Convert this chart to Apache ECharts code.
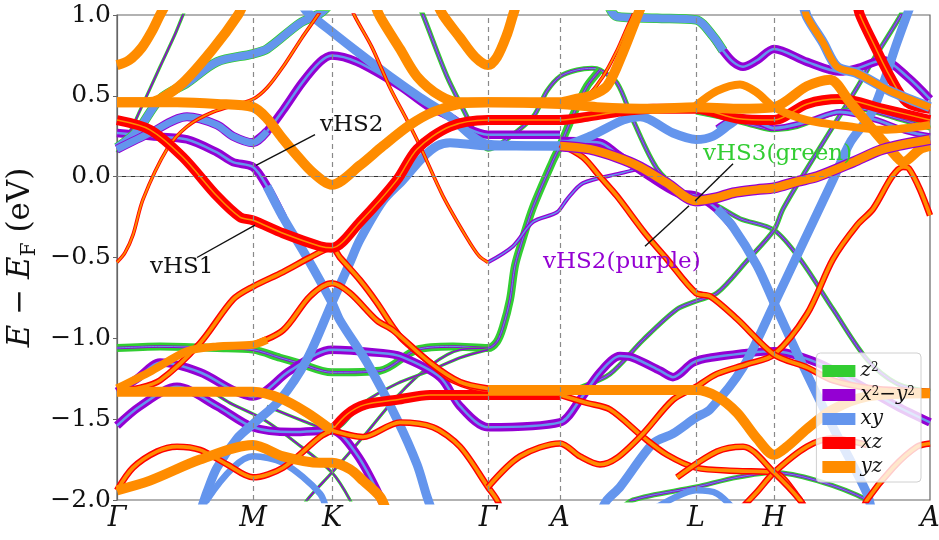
<!DOCTYPE html>
<html><head><meta charset="utf-8">
<script src="https://cdn.jsdelivr.net/npm/echarts@6/dist/echarts.min.js"></script>
<style>html,body{margin:0;padding:0;background:#fff}#c{width:939px;height:540px}</style>
</head><body><div id="c"></div>
<script>
// high-symmetry k points (path distance) and labels
const kPoints = [0,136,215,371,443,579,657,813];
const kLabels = ['Γ','M','K','Γ','A','L','H','A'];
const legendNames = ['z2','x2y2','xy','xz','yz'];

// ---- band data: [k, E-EF (eV)] ----
const gSteep = [[0,0.15],[13,0.28],[23,0.41],[43,0.68],[58,0.88],[66,1.0],[72,1.08]];
const gThin = [[300,1.08],[306,1.0],[330,0.62],[350,0.37],[361,0.23],[371,0.17],[385,0.21],[416,0.37],[430,0.53],[443,0.62],[460,0.66],[475,0.67],[483,0.66],[500,0.58],[516,0.35],[540,0.05],[566,-0.10],[579,-0.13],[600,-0.18],[623,-0.26],[657,-0.33],[683,-0.51],[716,-0.82],[750,-1.13],[780,-1.28],[813,-1.33]];
const gFlat = [[0,-1.06],[43,-1.05],[100,-1.06],[136,-1.07],[163,-1.12],[180,-1.15],[215,-1.21],[263,-1.20],[300,-1.07],[336,-1.05],[371,-1.06],[380,-1.02],[386,-0.93],[393,-0.76],[398,-0.55],[405,-0.40],[416,-0.19],[436,0.10],[443,0.19],[456,0.38],[470,0.56],[483,0.66]];
const g2 = [[443,-1.34],[465,-1.30],[493,-1.22],[526,-1.01],[560,-0.82],[579,-0.77],[600,-0.72],[630,-0.52],[657,-0.33],[666,-0.20],[690,0.05],[716,0.31],[740,0.55],[756,0.72],[783,0.99],[790,1.08]];
const gpD1 = [[100,-1.35],[113,-1.40],[146,-1.50],[180,-1.65],[215,-1.83],[233,-2.0],[237,-2.08]];
const gpD2 = [[183,-2.08],[190,-2.0],[215,-1.83],[246,-1.61],[280,-1.36],[313,-1.17],[343,-1.07],[371,-1.06]];
const gpD3 = [[150,-1.42],[190,-1.52],[215,-1.57],[246,-1.40],[280,-1.28],[313,-1.20],[343,-1.12],[371,-1.07]];
const gpLH = [[500,-2.08],[516,-2.0],[579,-1.92],[620,-1.86],[657,-1.83],[700,-1.88],[750,-2.0],[760,-2.08]];
const gpH = [[579,0.40],[610,0.36],[640,0.31],[657,0.29],[680,0.31],[710,0.38],[740,0.42],[780,0.36],[813,0.30]];

const bM1 = [[0,0.27],[35,0.25],[70,0.23],[100,0.15],[116,0.09],[136,0.06],[150,-0.06],[166,-0.25]];
const bM2 = [[150,-0.06],[166,-0.25],[190,-0.50],[215,-0.78],[223,-0.89],[250,-1.15],[280,-1.50],[300,-1.78],[310,-1.98],[316,-2.08]];
const bpMK1 = [[0,0.17],[33,0.27],[70,0.37],[100,0.32],[116,0.25],[136,0.21],[150,0.28]];
const bpMK2 = [[136,0.21],[150,0.28],[166,0.41],[185,0.58],[203,0.71],[215,0.75],[240,0.71],[283,0.56],[310,0.44],[333,0.37],[350,0.30],[371,0.26],[443,0.26]];
const pVhs = [[371,-0.53],[396,-0.43],[416,-0.28],[440,-0.22],[450,-0.14],[466,-0.04],[503,0.02],[523,0.05]];
const pLow1 = [[0,-1.54],[23,-1.42],[60,-1.30],[100,-1.42],[136,-1.55],[175,-1.58],[215,-1.57],[240,-1.72],[263,-1.98],[268,-2.08]];
const pMid = [[0,-1.33],[20,-1.25],[43,-1.15],[83,-1.21],[116,-1.32],[136,-1.36],[173,-1.20],[215,-1.07],[263,-1.09],[283,-1.11],[323,-1.24],[343,-1.42],[371,-1.55],[443,-1.52],[463,-1.38],[483,-1.21],[503,-1.11],[516,-1.12],[543,-1.20],[556,-1.24],[576,-1.15],[593,-1.12],[657,-1.08],[700,-1.15],[740,-1.28],[780,-1.42],[813,-1.52]];
const pbVhs1 = [[443,0.22],[483,0.21],[500,0.14],[533,0.0],[560,-0.10],[580,-0.12],[600,-0.20],[616,-0.31]];
const pbVhs2 = [[600,-0.20],[616,-0.31],[640,-0.55],[657,-0.78],[683,-1.13],[716,-1.55],[750,-1.96],[755,-2.08]];
const pTop1 = [[490,1.08],[500,0.99],[540,0.98],[579,0.97],[596,0.87],[606,0.78]];
const pTop2 = [[596,0.87],[606,0.78],[616,0.71],[626,0.68],[640,0.72],[657,0.79],[690,0.71],[723,0.65],[740,0.67],[766,0.72],[790,0.62],[813,0.48]];
const pbH = [[600,0.30],[623,0.37],[640,0.34],[657,0.30],[690,0.34],[723,0.40],[760,0.35],[790,0.28],[813,0.25]];

const bgUp = [[0,0.18],[20,0.28],[43,0.48],[70,0.58],[100,0.71],[136,0.76],[150,0.79],[183,0.95],[203,1.01],[212,1.06]];
const bK = [[83,-2.08],[90,-1.95],[100,-1.80],[120,-1.62],[136,-1.53],[163,-1.38],[190,-1.13],[215,-0.78],[233,-0.53],[243,-0.39],[266,-0.15],[286,-0.02],[306,0.12],[320,0.19],[333,0.21],[371,0.19],[443,0.19],[473,0.25],[506,0.35],[523,0.37],[556,0.27],[579,0.23],[596,0.25],[612,0.32],[623,0.37]];
const bDown = [[185,1.06],[190,1.02],[216,0.89],[245,0.75],[273,0.62],[303,0.49],[333,0.37],[355,0.25],[371,0.20],[443,0.19]];
const bL = [[483,-2.08],[490,-2.0],[503,-1.92],[536,-1.65],[556,-1.59],[579,-1.49],[593,-1.44],[626,-1.18],[657,-0.79],[683,-0.45],[716,-0.02],[733,0.21],[756,0.41],[780,0.83],[790,1.0],[795,1.08]];
const bMpk = [[86,-2.08],[90,-2.0],[116,-1.80],[136,-1.73],[166,-1.77],[203,-1.96],[210,-2.08]];
const bL2 = [[530,-2.08],[556,-1.99],[579,-1.94],[600,-1.96],[620,-2.08]];

const rVhs1 = [[0,0.35],[33,0.29],[66,0.12],[100,-0.12],[123,-0.25],[136,-0.27],[166,-0.35],[203,-0.43],[215,-0.44],[243,-0.28],[280,-0.02],[300,0.17],[333,0.31],[371,0.35],[443,0.35],[470,0.37],[500,0.40],[536,0.42],[579,0.42],[620,0.36],[657,0.35],[690,0.45],[723,0.48],[766,0.42],[813,0.35]];
const rLowA = [[0,-1.94],[16,-1.80],[40,-1.70],[60,-1.67],[83,-1.69],[110,-1.78],[136,-1.86],[166,-1.80],[203,-1.61],[215,-1.57]];
const rFlat = [[215,-1.57],[230,-1.47],[248,-1.41],[280,-1.38],[313,-1.35],[371,-1.35],[443,-1.35]];
const roT1a = [[0,-0.53],[8,-0.47],[16,-0.36],[26,-0.14],[50,0.17],[70,0.31],[96,0.40],[136,0.48],[150,0.55],[166,0.68],[185,0.86],[203,1.02],[210,1.1]];
const roT1b = [[230,1.1],[238,0.99],[255,0.80],[273,0.55],[290,0.35],[303,0.19],[326,-0.12],[350,-0.38],[362,-0.49],[371,-0.53]];
const roUp = [[443,0.46],[470,0.50],[486,0.62],[500,0.78],[510,0.92],[516,1.0],[520,1.08]];
const roK = [[0,-1.33],[20,-1.31],[43,-1.26],[83,-1.03],[116,-0.76],[136,-0.68],[166,-0.59],[193,-0.50],[215,-0.44],[223,-0.50],[243,-0.64],[260,-0.78],[276,-0.93],[286,-1.01],[313,-1.15],[336,-1.26],[371,-1.32],[443,-1.33]];
const roK2b = [[136,-1.04],[166,-0.95],[193,-0.74],[215,-0.66],[233,-0.72],[260,-0.89],[276,-0.95],[313,-1.15],[343,-1.27],[371,-1.31]];
const roKG = [[215,-1.57],[246,-1.61],[283,-1.52],[316,-1.55],[343,-1.67],[371,-1.92],[380,-2.0],[385,-2.08]];
const roA = [[443,-1.35],[470,-1.40],[493,-1.44],[526,-1.61],[550,-1.72],[579,-1.80],[620,-1.82],[657,-1.83],[683,-2.0],[690,-2.08]];
const roB = [[371,-1.92],[403,-1.73],[443,-1.65],[463,-1.73],[483,-1.78],[500,-1.74],[526,-1.59],[556,-1.38],[579,-1.30],[600,-1.22],[630,-1.16],[657,-1.10],[690,-0.85],[716,-0.51],[740,-0.30],[756,-0.20],[775,0.0],[786,0.06],[792,0.05],[803,-0.08],[813,-0.24]];
const roAa = [[443,0.20],[466,0.12],[483,0.0],[500,-0.12],[528,-0.35],[550,-0.51],[579,-0.72],[593,-0.74],[620,-0.88],[657,-1.10],[690,-1.18],[716,-1.26],[756,-1.31],[813,-1.33]];
const roBR = [[745,-2.08],[750,-2.0],[776,-1.80],[800,-1.67],[813,-1.65]];
const hX1 = [[620,-2.08],[640,-1.95],[657,-1.83],[690,-1.67],[716,-1.62],[750,-1.66]];
const hX2 = [[560,-1.86],[600,-1.70],[626,-1.67],[657,-1.83],[683,-2.0],[690,-2.08]];
const rTopR = [[740,1.08],[743,1.0],[756,0.83],[773,0.62],[790,0.46],[813,0.42]];

const oTop = [[0,0.69],[12,0.72],[25,0.80],[35,0.90],[43,1.0],[50,1.08]];
const oU = [[318,1.1],[326,1.0],[343,0.86],[358,0.74],[371,0.69],[380,0.74],[390,0.88],[396,1.0],[400,1.08]];
const oVhs2 = [[0,0.46],[60,0.46],[100,0.45],[136,0.43],[150,0.36],[165,0.24],[180,0.13],[195,0.03],[215,-0.05],[243,0.07],[266,0.19],[293,0.32],[316,0.40],[343,0.45],[371,0.46],[443,0.46],[458,0.48],[473,0.50],[490,0.56],[506,0.77],[520,0.99],[526,1.08]];
const oRise = [[0,0.46],[30,0.46],[43,0.48],[66,0.58],[96,0.79],[121,1.0],[127,1.08]];
const oFall = [[257,1.08],[263,0.99],[283,0.79],[300,0.62],[323,0.50],[343,0.46],[371,0.46],[443,0.45],[480,0.43],[536,0.42],[579,0.43],[620,0.42],[657,0.43],[690,0.56],[713,0.60],[733,0.46],[756,0.29],[780,0.12],[786,0.09],[803,0.17],[813,0.19]];
const oBump = [[579,0.44],[600,0.53],[623,0.57],[640,0.52],[657,0.43],[690,0.35],[733,0.31],[766,0.29],[813,0.32]];
const oK2a = [[0,-1.31],[35,-1.20],[70,-1.08],[100,-1.05],[136,-1.04],[150,-1.01]];
const oFlat = [[0,-1.33],[70,-1.33],[136,-1.33],[163,-1.37],[190,-1.46],[215,-1.57]];
const oFlat2 = [[371,-1.32],[443,-1.32],[500,-1.32],[579,-1.32],[600,-1.36],[620,-1.46],[640,-1.62],[657,-1.72],[670,-1.67],[690,-1.56],[716,-1.44],[750,-1.36],[813,-1.34]];
const oLow = [[0,-1.94],[33,-1.88],[83,-1.75],[136,-1.66],[166,-1.73],[203,-1.77],[215,-1.77],[233,-1.81],[246,-1.88],[263,-1.98],[270,-2.08]];
const opVhs = [[443,0.19],[473,0.17],[500,0.12],[523,0.06],[550,-0.04],[579,-0.15],[600,-0.13],[616,-0.10],[640,-0.08],[657,-0.07],[680,-0.03],[700,0.0],[736,0.09],[766,0.17],[813,0.23]];
const obTopR = [[686,1.08],[690,0.99],[706,0.83],[720,0.68],[740,0.64],[773,0.53],[813,0.43]];

// ---- styling ----
const G='#32CD32', P='#9400D3', B='#6495ED', R='#FF0000', O='#FF8C00';
const STY = {
  O:[[O,10]], Om:[[O,8]], OB:[[B,10],[O,7]], OP:[[P,11],[O,8.5]],
  R:[[R,10],[O,1.5]], RO:[[R,6.5],[O,3.6]], ro:[[R,3.6],[O,1.8]],
  B:[[B,9]], Bt:[[B,6.5]], Bg:[[G,9.5],[B,8]], Bp:[[P,9],[B,7]],
  PB:[[P,8.5],[B,2.5]], pbm:[[P,6],[B,3]], pb:[[P,4],[B,1.5]],
  G:[[G,8],[P,2.5],[B,1]], GP:[[G,5],[P,2.5],[B,1]], gp:[[G,3.2],[P,1.5]]
};
const bands = [
  [gSteep,'gp'],[gThin,'GP'],[gFlat,'G'],[g2,'GP'],[gpD1,'gp'],[gpD2,'gp'],[gpD3,'gp'],[gpLH,'GP'],[gpH,'GP'],
  [bM1,'PB'],[bpMK2,'PB'],[pVhs,'pb'],[pLow1,'PB'],[pMid,'PB'],[pbVhs1,'PB'],[pTop2,'PB'],[pbH,'pbm'],
  [bgUp,'Bg'],[bM2,'B'],[bK,'B'],[bpMK1,'Bp'],[bDown,'B'],[bL,'B'],[pbVhs2,'B'],[bMpk,'Bt'],[bL2,'Bt'],[pTop1,'Bg'],
  [roT1a,'ro'],[roT1b,'ro'],[roUp,'ro'],[rLowA,'RO'],[rFlat,'R'],[roK,'RO'],[roK2b,'RO'],[roKG,'RO'],[roA,'RO'],[roB,'RO'],[roAa,'RO'],[roBR,'RO'],[hX1,'RO'],[hX2,'RO'],[rVhs1,'R'],[rTopR,'R'],
  [oTop,'O'],[oU,'O'],[oVhs2,'O'],[oRise,'O'],[oFall,'O'],[oBump,'Om'],[oK2a,'Om'],[oFlat,'O'],[oFlat2,'O'],[oLow,'O'],[opVhs,'OP'],[obTopR,'OB']
];

const series = [];
// dashed reference lines
series.push({type:'line', data:[], silent:true, z:1,
  markLine:{symbol:'none', silent:true, animation:false, label:{show:false},
    lineStyle:{type:[5,4], color:'#8a8a8a', width:1.2},
    data: kPoints.slice(1,-1).map(k=>({xAxis:k})).concat([{yAxis:0}])}});
bands.forEach(([d,s])=>{
  STY[s].forEach(([c,w])=>{
    series.push({type:'line', data:d, smooth:0.3, showSymbol:false, symbol:'none', silent:true,
      animation:false, z:2, lineStyle:{color:c, width:w, join:'round'}});
  });
});
const legendColors = {z2:G, x2y2:P, xy:B, xz:R, yz:O};
legendNames.forEach(n=>series.push({name:n, type:'line', data:[], color:legendColors[n], itemStyle:{color:legendColors[n]}}));

const serif = 'DejaVu Serif';
const legendText = {
  z2:'{i|z}{s|2}', x2y2:'{i|x}{s|2}{n|−}{i|y}{s|2}', xy:'{i|xy}', xz:'{i|xz}', yz:'{i|yz}'
};
const chart = echarts.init(document.getElementById('c'), null, {renderer:'canvas'});
chart.setOption({
  animation:false,
  backgroundColor:'#fff',
  grid:{left:117, right:9, top:15, bottom:40, outerBoundsMode:'none', containLabel:false,
    show:true, borderColor:'#666', borderWidth:1.2, backgroundColor:'transparent'},
  xAxis:{type:'value', min:0, max:813,
    axisLine:{show:true, lineStyle:{color:'#333', width:1.2}},
    axisTick:{show:false}, splitLine:{show:false},
    axisLabel:{customValues:kPoints, showMinLabel:true, showMaxLabel:true, margin:5,
      formatter:(v)=>kLabels[kPoints.indexOf(v)],
      fontFamily:serif, fontStyle:'italic', fontSize:27, color:'#111'}},
  yAxis:{type:'value', min:-2, max:1, interval:0.5,
    axisLine:{show:true, lineStyle:{color:'#666', width:1.2}},
    axisTick:{show:true, length:4, lineStyle:{color:'#666'}}, splitLine:{show:false},
    axisLabel:{fontFamily:serif, fontSize:25, color:'#111', margin:6,
      formatter:(v)=>(v<0?'−':'')+Math.abs(v).toFixed(1)},
    name:'{i|E}{n| − }{i|E}{sub|F}{n| (eV)}', nameLocation:'middle', nameRotate:90, nameGap:76,
    nameTextStyle:{fontFamily:serif, fontSize:31, color:'#111',
      rich:{i:{fontFamily:serif, fontStyle:'italic', fontSize:31, lineHeight:36, color:'#111'},
            n:{fontFamily:serif, fontSize:31, lineHeight:36, color:'#111'},
            sub:{fontFamily:serif, fontSize:20, lineHeight:14, verticalAlign:'bottom', color:'#111'}}}},
  legend:{orient:'vertical', right:18, bottom:58, itemWidth:33, itemHeight:12, itemGap:4,
    padding:[8,6,5,6], backgroundColor:'rgba(255,255,255,0.8)', borderColor:'#d0d0d0', borderWidth:1, borderRadius:4,
    data:legendNames.map(n=>({name:n, icon:'rect'})),
    formatter:(n)=>legendText[n],
    textStyle:{fontFamily:serif, fontSize:20, color:'#111',
      rich:{i:{fontFamily:serif, fontStyle:'italic', fontSize:20, lineHeight:19, color:'#111'},
            n:{fontFamily:serif, fontSize:20, lineHeight:19, color:'#111'},
            s:{fontFamily:serif, fontSize:12, lineHeight:10, verticalAlign:'top', color:'#111'}}}},
  series
});

// annotations in data coordinates
const ann = [
  {t:'vHS2', at:[203,0.32], c:'#111', from:[139,0.07], to:[198,0.26]},
  {t:'vHS1', at:[33,-0.56], c:'#111', from:[80,-0.50], to:[138,-0.30]},
  {t:'vHS3(green)', at:[586,0.14], c:'#32CD32', from:[616,0.08], to:[578,-0.15]},
  {t:'vHS2(purple)', at:[426,-0.53], c:'#9400D3', from:[528,-0.43], to:[572,-0.18]}
];
const px = (p)=>chart.convertToPixel({gridIndex:0}, p);
const g = [];
ann.forEach(a=>{
  const p = px(a.at), f = px(a.from), t = px(a.to);
  g.push({type:'line', shape:{x1:f[0],y1:f[1],x2:t[0],y2:t[1]}, style:{stroke:'#111', lineWidth:1.4}, z:100});
  g.push({type:'text', x:p[0], y:p[1], style:{text:a.t, fill:a.c, font:'23px "DejaVu Serif"', textVerticalAlign:'middle', textAlign:'left'}, z:100});
});
chart.setOption({graphic:g});
</script>
</body></html>
